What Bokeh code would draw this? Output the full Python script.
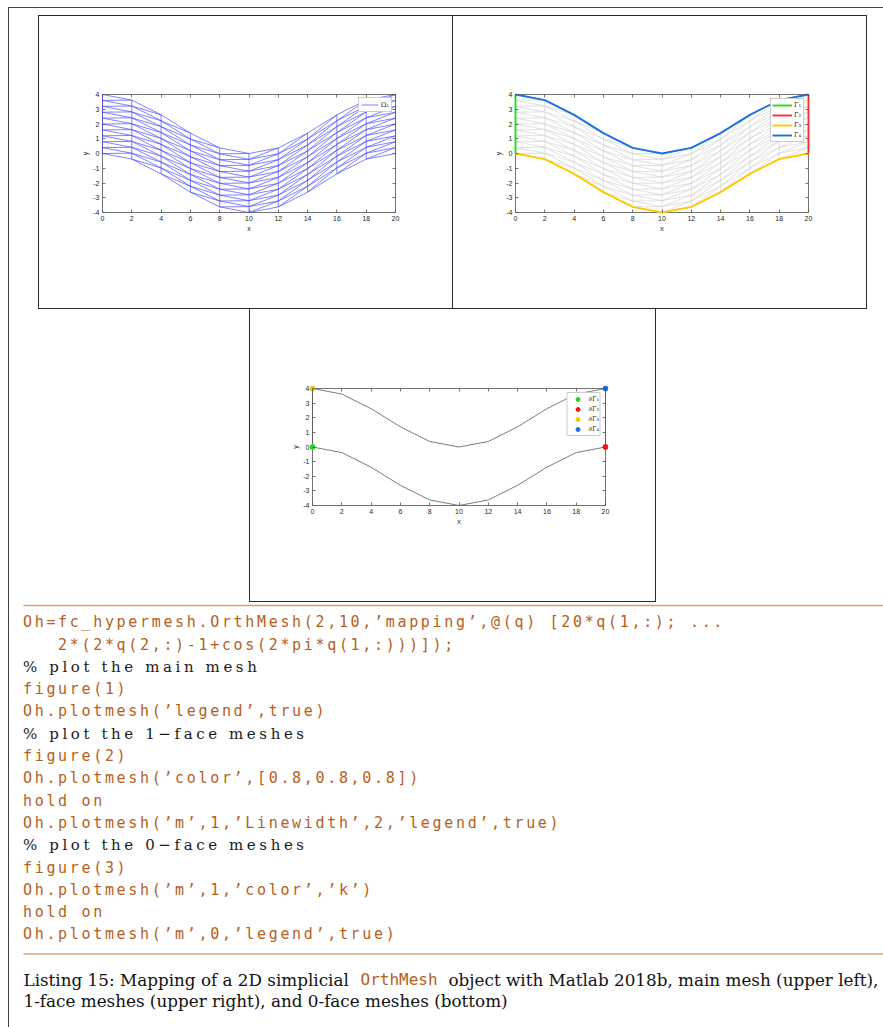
from bokeh.plotting import figure
from bokeh.models import Range1d, FixedTicker, LinearAxis, Legend, LegendItem, Spacer
from bokeh.layouts import column, row
from bokeh.embed import file_html
from bokeh.resources import INLINE
from bokeh.core.properties import value

# ------------------------------------------------------------------ data
x_nodes = [0, 2, 4, 6, 8, 10, 12, 14, 16, 18, 20]
y_bottom = [0.0, -0.38, -1.38, -2.62, -3.62, -4.0, -3.62, -2.62, -1.38, -0.38, 0.0]
y_levels = [0.0, 0.4, 0.8, 1.2, 1.6, 2.0, 2.4, 2.8, 3.2, 3.6, 4.0]
x_ticks = [0, 2, 4, 6, 8, 10, 12, 14, 16, 18, 20]
y_ticks = [-4, -3, -2, -1, 0, 1, 2, 3, 4]
mesh_label = "Ω₁"
face_labels = ["Γ₁", "Γ₂", "Γ₃", "Γ₄"]
face_colors = ["#22dd22", "#ff2e2e", "#ffc800", "#1b6fe0"]
vertex_labels = ["∂Γ₁", "∂Γ₂", "∂Γ₃", "∂Γ₄"]
vertex_colors = ["#22d622", "#ee1515", "#f7c600", "#1a6ee8"]

code_text = [
    "Oh=fc_hypermesh.OrthMesh(2,10,’mapping’,@(q) [20*q(1,:); ...",
    "2*(2*q(2,:)-1+cos(2*pi*q(1,:)))]);",
    "% plot the main mesh",
    "figure(1)",
    "Oh.plotmesh(’legend’,true)",
    "% plot the 1−face meshes",
    "figure(2)",
    "Oh.plotmesh(’color’,[0.8,0.8,0.8])",
    "hold on",
    "Oh.plotmesh(’m’,1,’Linewidth’,2,’legend’,true)",
    "% plot the 0−face meshes",
    "figure(3)",
    "Oh.plotmesh(’m’,1,’color’,’k’)",
    "hold on",
    "Oh.plotmesh(’m’,0,’legend’,true)",
]
code_indent = [0, 3, 0, 0, 0, 0, 0, 0, 0, 0, 0, 0, 0, 0, 0]
code_kind = ["code", "code", "comment", "code", "code", "comment", "code", "code",
             "code", "code", "comment", "code", "code", "code", "code"]
caption_a = "Listing 15: Mapping of a 2D simplicial"
caption_code = "OrthMesh"
caption_b = "object with Matlab 2018b, main mesh (upper left),"
caption_c = "1-face meshes (upper right), and 0-face meshes (bottom)"

# ------------------------------------------------------------------ styles
AX = "#505050"
TICK_TXT = "#262626"
CODE_COL = "#b5601c"
RULE_COL = "#d3a07a"
BOX_COL = "#2a2a2a"
PAGE_COL = "#444444"
CONTENT_W = 874
PAD = 3  # px of free frame around the Matlab axes box, so edge marks are not clipped

# ------------------------------------------------------------------ geometry from data
n = len(x_nodes)
top_curve = [yb + y_levels[-1] for yb in y_bottom]
mesh_xs, mesh_ys = [], []
for lev in y_levels:
    mesh_xs.append(list(x_nodes))
    mesh_ys.append([yb + lev for yb in y_bottom])
for i in range(n):
    mesh_xs.append([x_nodes[i], x_nodes[i]])
    mesh_ys.append([y_bottom[i], top_curve[i]])
for i in range(n - 1):
    for j in range(len(y_levels) - 1):
        mesh_xs.append([x_nodes[i], x_nodes[i + 1]])
        mesh_ys.append([y_bottom[i] + y_levels[j], y_bottom[i + 1] + y_levels[j + 1]])

face_xs = [[x_nodes[0], x_nodes[0]], [x_nodes[-1], x_nodes[-1]], list(x_nodes), list(x_nodes)]
face_ys = [[y_bottom[0], top_curve[0]], [y_bottom[-1], top_curve[-1]], list(y_bottom), top_curve]
vert_x = [x_nodes[0], x_nodes[-1], x_nodes[0], x_nodes[-1]]
vert_y = [y_bottom[0], y_bottom[-1], top_curve[0], top_curve[-1]]


def label_axis(ax):
    """Axis at the frame edge that only carries tick labels and the axis label."""
    ax.axis_line_color = None
    ax.major_tick_line_color = None
    ax.minor_tick_line_color = None
    ax.major_tick_in = 0
    ax.major_tick_out = 0
    ax.major_label_text_font = "Liberation Sans"
    ax.major_label_text_font_size = "7px"
    ax.major_label_text_color = TICK_TXT
    ax.major_label_standoff = 0
    ax.axis_label_text_font = "Liberation Sans"
    ax.axis_label_text_font_size = "7px"
    ax.axis_label_text_font_style = "normal"
    ax.axis_label_text_color = TICK_TXT
    ax.axis_label_standoff = 1


def tick_axis(ticks, loc):
    """Axis pinned to the Matlab box edge that only draws inward ticks."""
    return LinearAxis(ticker=FixedTicker(ticks=ticks), fixed_location=loc,
                      axis_line_color=None, major_tick_line_color=AX, major_tick_line_width=0.8,
                      major_tick_in=3, major_tick_out=0, minor_tick_line_color=None,
                      major_label_text_color=None, major_label_text_font_size="7px")


def matlab_axes(w, h, left, right, top, bottom):
    xmin, xmax = x_ticks[0], x_ticks[-1]
    ymin, ymax = y_ticks[0], y_ticks[-1]
    sx = (xmax - xmin) / (w - left - right)
    sy = (ymax - ymin) / (h - top - bottom)
    p = figure(width=w, height=h,
               x_range=Range1d(xmin - PAD * sx, xmax + PAD * sx),
               y_range=Range1d(ymin - PAD * sy, ymax + PAD * sy),
               output_backend="svg", toolbar_location=None,
               min_border_left=left - PAD, min_border_right=right - PAD,
               min_border_top=top - PAD, min_border_bottom=bottom - PAD,
               background_fill_color="white", border_fill_color="white",
               outline_line_color=None)
    p.xgrid.visible = False
    p.ygrid.visible = False
    # the Matlab axes box
    p.quad(left=[xmin], right=[xmax], bottom=[ymin], top=[ymax],
           fill_color=None, line_color=AX, line_width=0.8)
    p.xaxis.ticker = FixedTicker(ticks=x_ticks)
    p.yaxis.ticker = FixedTicker(ticks=y_ticks)
    p.xaxis.major_label_overrides = {t: str(t) for t in x_ticks}
    p.yaxis.major_label_overrides = {t: str(t) for t in y_ticks}
    p.xaxis.axis_label = "x"
    p.yaxis.axis_label = "y"
    label_axis(p.xaxis[0])
    label_axis(p.yaxis[0])
    p.add_layout(tick_axis(x_ticks, ymin), "below")
    p.add_layout(tick_axis(x_ticks, ymax), "above")
    p.add_layout(tick_axis(y_ticks, xmin), "left")
    p.add_layout(tick_axis(y_ticks, xmax), "right")
    return p


def make_legend(items, gw, gh, pad, margin, standoff):
    return Legend(items=items, location="top_right", glyph_width=gw, glyph_height=gh,
                  label_height=gh, label_width=8, padding=pad, spacing=0, margin=margin,
                  label_standoff=standoff, label_text_font="DejaVu Serif",
                  label_text_font_size="6.5px", label_text_color="#222222",
                  border_line_color="#9a9a9a", border_line_width=0.7,
                  background_fill_color="white", background_fill_alpha=1.0)


# ------------------------------------------------------------------ figure 1: main mesh
f1 = matlab_axes(413, 292, 63, 57, 78, 96)
r_mesh = f1.multi_line(mesh_xs, mesh_ys, line_color="#4b4bff", line_width=0.7)
f1.add_layout(make_legend([LegendItem(label=mesh_label, renderers=[r_mesh])], 17, 9, 2, 3 + PAD, 3))

# ------------------------------------------------------------------ figure 2: 1-face meshes
f2 = matlab_axes(413, 292, 62, 58, 78, 96)
f2.multi_line(mesh_xs, mesh_ys, line_color="#d2d2d2", line_width=0.7)
items2 = []
for fx, fy, lab, col in zip(face_xs, face_ys, face_labels, face_colors):
    r = f2.line(fx, fy, line_color=col, line_width=1.9)
    items2.append(LegendItem(label=lab, renderers=[r]))
f2.add_layout(make_legend(items2, 20, 10, 1, 4 + PAD, 2))

# ------------------------------------------------------------------ figure 3: 0-face meshes
f3 = matlab_axes(405, 292, 62, 50, 79, 96)
f3.multi_line(face_xs, face_ys, line_color="#5a5a5a", line_width=0.8)
items3 = []
for vx, vy, lab, col in zip(vert_x, vert_y, vertex_labels, vertex_colors):
    r = f3.scatter([vx], [vy], marker="circle", size=5, fill_color=col, line_color=col)
    items3.append(LegendItem(label=lab, renderers=[r]))
f3.add_layout(make_legend(items3, 18, 10, 1, 4 + PAD, 2))

# ------------------------------------------------------------------ listing
LINE0 = 621.7      # page y of first code line centre
STEP = 22.3        # line pitch
CODE_TOP = 602
CODE_BOTTOM = 962
PAGE_BOTTOM = 1027
CONTENT_X = 9
COL = 11.7         # fixed column width of the listing
X0 = 22.5 - CONTENT_X


def text_fig(h, spacing_px=None):
    p = figure(width=CONTENT_W, height=h, x_range=Range1d(0, CONTENT_W), y_range=Range1d(h, 0),
               x_axis_type=None, y_axis_type=None, output_backend="svg",
               toolbar_location=None, min_border=0, outline_line_color=None,
               background_fill_color="white", border_fill_color="white")
    if spacing_px is not None:
        p.styles = {"letter-spacing": f"{spacing_px}px"}
    return p


groups = []
for k, kind in enumerate(code_kind):
    if groups and groups[-1]["kind"] == kind:
        groups[-1]["lines"].append(k)
    else:
        groups.append({"kind": kind, "lines": [k]})
for gi, g in enumerate(groups):
    g["top"] = CODE_TOP if gi == 0 else round(LINE0 + STEP * (g["lines"][0] - 0.5))
for gi, g in enumerate(groups):
    g["bottom"] = groups[gi + 1]["top"] if gi + 1 < len(groups) else CODE_BOTTOM

text_figs = []
for gi, g in enumerate(groups):
    h = g["bottom"] - g["top"]
    if g["kind"] == "code":
        p = text_fig(h, 2.67)
        font, size, colr = "DejaVu Sans Mono", "15px", CODE_COL
    else:
        p = text_fig(h, 3.6)
        font, size, colr = "DejaVu Serif", "15px", "#1a1a1a"
    xs = [X0 + COL * code_indent[k] for k in g["lines"]]
    ys = [LINE0 + STEP * k - g["top"] for k in g["lines"]]
    p.text(x=xs, y=ys, text=[code_text[k] for k in g["lines"]],
           text_font=value(font), text_font_size=value(size), text_color=colr,
           text_baseline="middle", text_align="left")
    if gi == 0:
        p.segment(x0=[23 - CONTENT_X], y0=[605 - g["top"]], x1=[CONTENT_W], y1=[605 - g["top"]],
                  line_color=RULE_COL, line_width=1.3)
    if gi == len(groups) - 1:
        p.segment(x0=[23 - CONTENT_X], y0=[953.5 - g["top"]], x1=[CONTENT_W], y1=[953.5 - g["top"]],
                  line_color=RULE_COL, line_width=1.3)
    text_figs.append(p)

# ------------------------------------------------------------------ caption
cap_h = PAGE_BOTTOM - CODE_BOTTOM
cap = text_fig(cap_h)
cap.text(x=[23 - CONTENT_X, 448 - CONTENT_X], y=[979 - CODE_BOTTOM] * 2, text=[caption_a, caption_b],
         text_font=value("DejaVu Serif"), text_font_size=value("16.8px"), text_color="#111111",
         text_baseline="middle", text_align="left")
cap.text(x=[360 - CONTENT_X], y=[979 - CODE_BOTTOM], text=[caption_code],
         text_font=value("DejaVu Sans Mono"), text_font_size=value("16px"), text_color=CODE_COL,
         text_baseline="middle", text_align="left")
cap.text(x=[23 - CONTENT_X], y=[1000 - CODE_BOTTOM], text=[caption_c],
         text_font=value("DejaVu Serif"), text_font_size=value("16.8px"), text_color="#111111",
         text_baseline="middle", text_align="left")


# ------------------------------------------------------------------ layout
def hline(w, color=BOX_COL):
    return Spacer(width=w, height=1, styles={"background-color": color})


def vline(h, color=BOX_COL):
    return Spacer(width=1, height=h, styles={"background-color": color})


box_row = row(Spacer(width=29, height=294),
              vline(294), column(hline(413), f1, hline(413)),
              vline(294), column(hline(413), f2, hline(413)),
              vline(294))
mid_row = row(Spacer(width=240, height=293), vline(293), column(f3, hline(405)), vline(293))
content = column(Spacer(width=CONTENT_W, height=7), box_row, mid_row, *text_figs, cap)
root = column(
    Spacer(width=883, height=7),
    row(Spacer(width=8, height=1), hline(875, PAGE_COL)),
    row(Spacer(width=8, height=1019), vline(1019, PAGE_COL), content),
    styles={"background-color": "white"},
)

open("out.html", "w").write(file_html(root, INLINE, title="OrthMesh listing"))
